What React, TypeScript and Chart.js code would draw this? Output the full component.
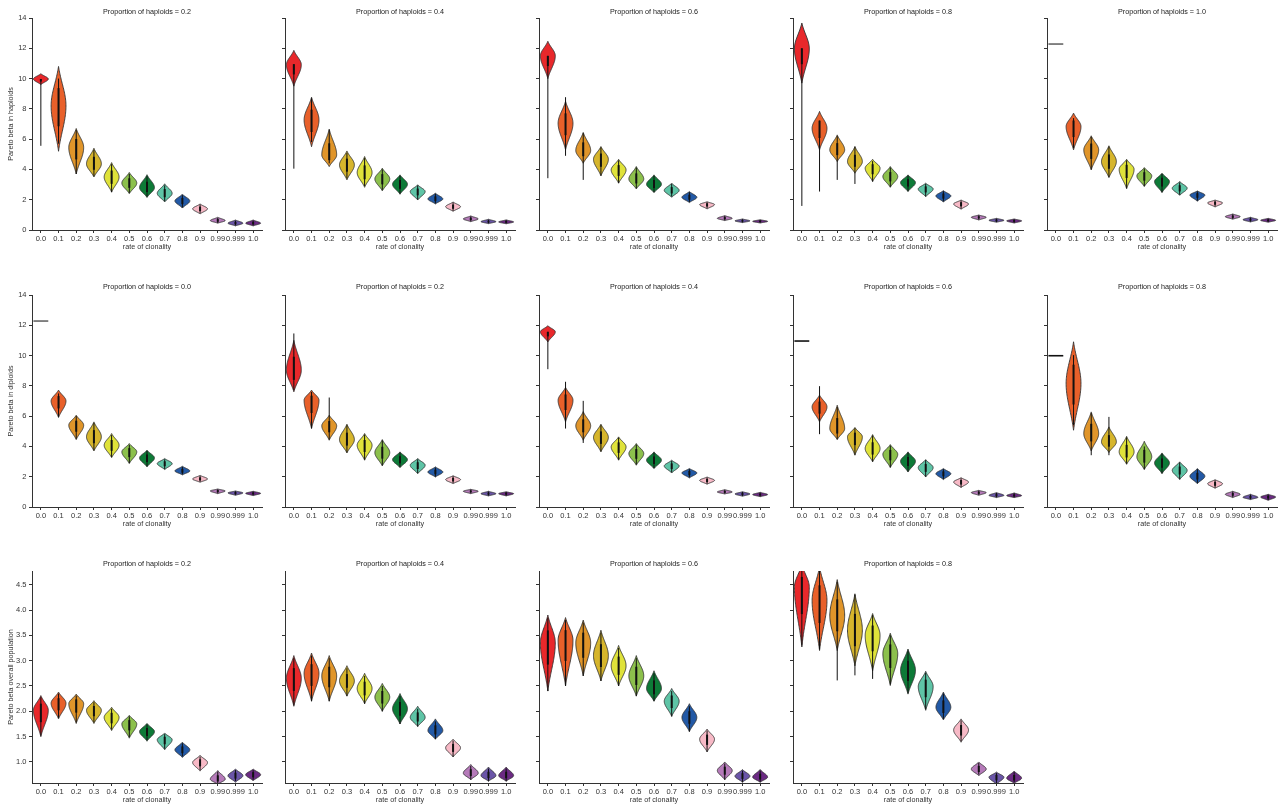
import React, { useEffect, useRef } from "react";
import { Chart, registerables } from "chart.js";
Chart.register(...registerables);

// [whisker low, body low, peak, body high, whisker high]
type Violin = [number, number, number, number, number];

const clonality = ["0.0", "0.1", "0.2", "0.3", "0.4", "0.5", "0.6", "0.7", "0.8", "0.9", "0.99", "0.999", "1.0"];
const violinColors = [
  "#e8282b", "#e8602a", "#e0952a", "#d6b52c", "#dfe23a", "#8cc04c", "#0d7a37",
  "#5ec4a6", "#2259a6", "#f7b9c6", "#b57ab9", "#6a55a8", "#6b2a83",
];
const betaTicks = [0, 2, 4, 6, 8, 10, 12, 14];
const overallTicks = [1.0, 1.5, 2.0, 2.5, 3.0, 3.5, 4.0, 4.5];
const betaRange = [0, 14];
const overallRange = [0.585, 4.77];

const haploid02: Violin[] = [
  [5.56, 9.6, 9.97, 10.32, 9.97], [5.7, 5.2, 8.2, 10.8, 10.0], [3.7, 3.7, 5.45, 6.7, 6.6],
  [3.55, 3.5, 4.37, 5.4, 5.3], [2.5, 2.5, 3.5, 4.45, 4.35], [2.45, 2.4, 3.1, 3.8, 3.7],
  [2.2, 2.15, 2.8, 3.65, 3.55], [1.9, 1.85, 2.42, 3.05, 2.95], [1.48, 1.45, 1.92, 2.36, 2.3],
  [1.1, 1.06, 1.4, 1.72, 1.68], [0.46, 0.45, 0.62, 0.84, 0.8], [0.3, 0.27, 0.45, 0.66, 0.62],
  [0.3, 0.27, 0.45, 0.66, 0.62],
];
const haploid04: Violin[] = [
  [4.05, 9.5, 10.91, 11.86, 10.95], [5.8, 5.5, 7.27, 8.77, 8.7], [4.4, 4.19, 4.96, 6.66, 6.62],
  [3.4, 3.31, 4.3, 5.22, 5.1], [2.9, 2.82, 3.79, 4.85, 4.75], [2.65, 2.58, 3.37, 4.08, 4.0],
  [2.4, 2.36, 3.02, 3.64, 3.58], [2.0, 1.98, 2.54, 2.98, 2.95], [1.75, 1.72, 2.05, 2.43, 2.4],
  [1.26, 1.23, 1.54, 1.85, 1.82], [0.57, 0.55, 0.73, 0.93, 0.9], [0.44, 0.42, 0.55, 0.71, 0.68],
  [0.43, 0.41, 0.53, 0.67, 0.65],
];
const haploid06: Violin[] = [
  [3.42, 10.0, 11.5, 12.46, 11.5], [4.9, 5.3, 7.05, 8.5, 8.77], [3.31, 4.41, 5.25, 6.44, 6.4],
  [3.6, 3.57, 4.67, 5.51, 5.45], [3.1, 3.09, 3.97, 4.67, 4.6], [2.75, 2.71, 3.37, 4.19, 4.12],
  [2.5, 2.47, 3.02, 3.64, 3.58], [2.2, 2.16, 2.62, 3.09, 3.04], [1.85, 1.81, 2.16, 2.54, 2.5],
  [1.42, 1.39, 1.68, 1.87, 1.84], [0.64, 0.62, 0.77, 0.95, 0.93], [0.5, 0.49, 0.6, 0.73, 0.71],
  [0.48, 0.46, 0.57, 0.68, 0.66],
];
const haploid08: Violin[] = [
  [1.59, 9.7, 11.97, 13.67, 12.0], [2.54, 5.29, 6.72, 7.83, 7.23], [3.31, 4.52, 5.29, 6.28, 6.2],
  [3.04, 3.75, 4.52, 5.51, 5.5], [3.2, 3.2, 4.08, 4.67, 4.55], [2.85, 2.82, 3.53, 4.19, 4.12],
  [2.56, 2.54, 3.13, 3.64, 3.6], [2.22, 2.2, 2.71, 3.09, 3.05], [1.88, 1.85, 2.25, 2.6, 2.56],
  [1.4, 1.37, 1.72, 1.98, 1.95], [0.68, 0.66, 0.84, 0.99, 0.97], [0.53, 0.51, 0.64, 0.77, 0.75],
  [0.48, 0.46, 0.6, 0.73, 0.71],
];
const haploid10: Violin[] = [
  [12.28, 12.28, 12.28, 12.28, 12.28], [5.4, 5.29, 6.83, 7.72, 7.39], [4.0, 3.97, 5.29, 6.22, 6.15],
  [3.5, 3.46, 4.52, 5.56, 5.5], [2.75, 2.73, 4.01, 4.67, 4.6], [2.9, 2.87, 3.57, 4.12, 4.05],
  [2.5, 2.47, 3.2, 3.75, 3.7], [2.32, 2.29, 2.76, 3.2, 3.15], [1.93, 1.9, 2.31, 2.58, 2.55],
  [1.55, 1.52, 1.79, 1.98, 1.95], [0.73, 0.71, 0.88, 1.06, 1.04], [0.55, 0.53, 0.68, 0.84, 0.82],
  [0.53, 0.51, 0.64, 0.77, 0.75],
];

const diploid00: Violin[] = [
  [12.28, 12.28, 12.28, 12.28, 12.28], [5.95, 5.91, 7.0, 7.72, 7.5], [4.5, 4.45, 5.4, 6.06, 6.0],
  [3.75, 3.7, 4.63, 5.62, 5.55], [3.3, 3.26, 4.08, 4.85, 4.75], [2.9, 2.87, 3.64, 4.19, 4.1],
  [2.68, 2.65, 3.24, 3.75, 3.7], [2.5, 2.47, 2.87, 3.2, 3.15], [2.15, 2.12, 2.38, 2.69, 2.65],
  [1.66, 1.63, 1.85, 2.09, 2.06], [0.9, 0.88, 1.06, 1.19, 1.17], [0.8, 0.77, 0.93, 1.06, 1.04],
  [0.78, 0.75, 0.9, 1.04, 1.02],
];
const diploid02: Violin[] = [
  [7.72, 7.61, 9.04, 11.0, 11.46], [5.2, 5.18, 7.05, 7.72, 7.6], [4.45, 4.41, 5.36, 6.06, 7.23],
  [3.6, 3.57, 4.45, 5.47, 5.4], [3.12, 3.09, 4.08, 4.85, 4.78], [2.75, 2.71, 3.59, 4.45, 4.4],
  [2.63, 2.6, 3.13, 3.64, 3.6], [2.23, 2.2, 2.76, 3.2, 3.15], [2.0, 1.98, 2.31, 2.65, 2.6],
  [1.57, 1.54, 1.81, 2.07, 2.04], [0.9, 0.88, 1.04, 1.17, 1.15], [0.75, 0.73, 0.88, 1.04, 1.02],
  [0.75, 0.73, 0.88, 1.01, 0.99],
];
const diploid04: Violin[] = [
  [9.1, 10.9, 11.57, 11.97, 11.57], [5.18, 5.62, 7.05, 7.9, 8.27], [4.23, 4.41, 5.36, 6.3, 7.01],
  [3.68, 3.64, 4.6, 5.47, 5.4], [3.12, 3.09, 3.97, 4.63, 4.58], [2.8, 2.76, 3.53, 4.19, 4.12],
  [2.57, 2.54, 3.09, 3.64, 3.6], [2.28, 2.25, 2.71, 3.09, 3.05], [1.95, 1.92, 2.25, 2.54, 2.5],
  [1.53, 1.5, 1.76, 1.98, 1.95], [0.88, 0.86, 0.99, 1.15, 1.13], [0.73, 0.71, 0.86, 1.01, 0.99],
  [0.7, 0.68, 0.82, 0.97, 0.95],
];
const diploid06: Violin[] = [
  [10.96, 10.96, 10.96, 10.96, 10.96], [4.81, 5.62, 6.61, 7.39, 7.98], [4.48, 4.45, 5.18, 6.72, 6.6],
  [3.45, 3.42, 4.63, 5.25, 5.2], [3.0, 2.98, 3.86, 4.78, 4.72], [2.63, 2.6, 3.48, 4.12, 4.05],
  [2.34, 2.31, 3.02, 3.64, 3.6], [2.0, 1.98, 2.6, 3.13, 3.1], [1.84, 1.81, 2.2, 2.54, 2.5],
  [1.3, 1.28, 1.65, 1.94, 1.9], [0.8, 0.77, 0.95, 1.1, 1.08], [0.64, 0.62, 0.77, 0.95, 0.93],
  [0.64, 0.62, 0.75, 0.93, 0.91],
];
const diploid08: Violin[] = [
  [9.99, 9.99, 9.99, 9.99, 9.99], [5.4, 5.07, 8.16, 10.91, 10.03], [3.42, 3.7, 4.85, 6.28, 6.2],
  [3.42, 3.6, 4.3, 5.29, 5.95], [2.85, 2.82, 3.64, 4.67, 4.6], [2.5, 2.47, 3.31, 4.34, 4.0],
  [2.23, 2.2, 2.91, 3.57, 3.52], [1.84, 1.81, 2.42, 2.98, 2.94], [1.57, 1.54, 2.03, 2.54, 2.5],
  [1.26, 1.23, 1.54, 1.81, 1.78], [0.64, 0.62, 0.84, 1.04, 1.02], [0.51, 0.49, 0.64, 0.84, 0.82],
  [0.46, 0.44, 0.66, 0.84, 0.82],
];

const overall02: Violin[] = [
  [1.52, 1.5, 2.02, 2.31, 2.28], [1.87, 1.85, 2.16, 2.38, 2.35], [1.78, 1.76, 2.15, 2.34, 2.31],
  [1.78, 1.76, 2.02, 2.21, 2.18], [1.64, 1.62, 1.88, 2.08, 2.05], [1.49, 1.47, 1.75, 1.92, 1.9],
  [1.43, 1.41, 1.6, 1.76, 1.74], [1.26, 1.24, 1.44, 1.57, 1.55], [1.11, 1.09, 1.24, 1.39, 1.37],
  [0.84, 0.82, 0.99, 1.13, 1.11], [0.58, 0.56, 0.66, 0.83, 0.81], [0.62, 0.6, 0.73, 0.86, 0.84],
  [0.65, 0.63, 0.75, 0.86, 0.84],
];
const overall04: Violin[] = [
  [2.12, 2.1, 2.65, 3.1, 3.05], [2.2, 2.2, 2.75, 3.15, 3.1], [2.2, 2.2, 2.7, 3.1, 3.05],
  [2.3, 2.3, 2.6, 2.9, 2.85], [2.15, 2.15, 2.45, 2.75, 2.7], [2.0, 2.0, 2.28, 2.55, 2.5],
  [1.75, 1.75, 2.05, 2.35, 2.3], [1.7, 1.7, 1.88, 2.1, 2.05], [1.45, 1.45, 1.62, 1.85, 1.8],
  [1.1, 1.1, 1.28, 1.45, 1.42], [0.65, 0.65, 0.78, 0.95, 0.92], [0.62, 0.62, 0.73, 0.9, 0.87],
  [0.62, 0.62, 0.73, 0.9, 0.87],
];
const overall06: Violin[] = [
  [2.4, 2.4, 3.35, 3.9, 3.85], [2.5, 2.5, 3.4, 3.85, 3.8], [2.7, 2.7, 3.35, 3.8, 3.75],
  [2.6, 2.6, 3.1, 3.6, 3.55], [2.5, 2.5, 2.9, 3.3, 3.25], [2.3, 2.3, 2.7, 3.1, 3.05],
  [2.2, 2.2, 2.45, 2.8, 2.75], [1.9, 1.9, 2.2, 2.45, 2.4], [1.6, 1.6, 1.88, 2.15, 2.1],
  [1.2, 1.2, 1.45, 1.65, 1.62], [0.65, 0.65, 0.83, 1.0, 0.97], [0.6, 0.6, 0.72, 0.85, 0.83],
  [0.6, 0.6, 0.7, 0.85, 0.83],
];
const overall08: Violin[] = [
  [3.3, 3.27, 4.45, 4.9, 4.77], [3.22, 3.2, 4.19, 4.85, 4.77], [2.61, 3.2, 3.89, 4.6, 4.55],
  [2.71, 2.9, 3.6, 4.32, 4.3], [2.64, 2.8, 3.5, 3.93, 3.9], [2.53, 2.51, 3.14, 3.54, 3.5],
  [2.36, 2.34, 2.81, 3.23, 3.2], [2.04, 2.02, 2.49, 2.79, 2.76], [1.85, 1.83, 2.08, 2.38, 2.35],
  [1.41, 1.39, 1.63, 1.85, 1.82], [0.75, 0.73, 0.86, 1.0, 0.98], [0.58, 0.56, 0.7, 0.8, 0.78],
  [0.6, 0.58, 0.68, 0.82, 0.8],
];

const rowAxes = [
  { label: "Pareto beta in haploids", ticks: betaTicks, range: betaRange, digits: 0 },
  { label: "Pareto beta in diploids", ticks: betaTicks, range: betaRange, digits: 0 },
  { label: "Pareto beta overall population", ticks: overallTicks, range: overallRange, digits: 1 },
];

const panels = [
  { row: 0, col: 0, title: "Proportion of haploids = 0.2", violins: haploid02, flat: "#666" },
  { row: 0, col: 1, title: "Proportion of haploids = 0.4", violins: haploid04, flat: "#666" },
  { row: 0, col: 2, title: "Proportion of haploids = 0.6", violins: haploid06, flat: "#666" },
  { row: 0, col: 3, title: "Proportion of haploids = 0.8", violins: haploid08, flat: "#666" },
  { row: 0, col: 4, title: "Proportion of haploids = 1.0", violins: haploid10, flat: "#666" },
  { row: 1, col: 0, title: "Proportion of haploids = 0.0", violins: diploid00, flat: "#666" },
  { row: 1, col: 1, title: "Proportion of haploids = 0.2", violins: diploid02, flat: "#666" },
  { row: 1, col: 2, title: "Proportion of haploids = 0.4", violins: diploid04, flat: "#666" },
  { row: 1, col: 3, title: "Proportion of haploids = 0.6", violins: diploid06, flat: "#111" },
  { row: 1, col: 4, title: "Proportion of haploids = 0.8", violins: diploid08, flat: "#111" },
  { row: 2, col: 0, title: "Proportion of haploids = 0.2", violins: overall02, flat: "#666" },
  { row: 2, col: 1, title: "Proportion of haploids = 0.4", violins: overall04, flat: "#666" },
  { row: 2, col: 2, title: "Proportion of haploids = 0.6", violins: overall06, flat: "#666" },
  { row: 2, col: 3, title: "Proportion of haploids = 0.8", violins: overall08, flat: "#666" },
];

const colLeft = [32, 285, 539, 793, 1047];
const rowTop = [18, 295, 571];
const rowTitleGap = [5.8, 7.6, 6.6];
const AREA_W = 230;
const AREA_H = 212;
const PAD_TOP = 18;
const Y_W = 32;
const X_H = 30;
const CANVAS_W = Y_W + AREA_W + 6;
const CANVAS_H = PAD_TOP + AREA_H + X_H;
const FONT = "'Liberation Sans', Arial, Helvetica, sans-serif";

function makeViolinPlugin(violins: Violin[], flatColor: string, title: string, titleGap: number) {
  return {
    id: "violins",
    beforeDatasetsDraw(chart: any) {
      const { ctx, chartArea: a } = chart;
      const xs = chart.scales.x;
      const ys = chart.scales.y;
      const half = (xs.getPixelForValue(1) - xs.getPixelForValue(0)) * 0.42;
      const K = 1.6;
      const e = Math.exp(-K);
      ctx.save();
      ctx.beginPath();
      ctx.rect(a.left, a.top, a.right - a.left, a.bottom - a.top);
      ctx.clip();
      violins.forEach((vl, i) => {
        const [lo, bLo, pk, bHi, hi] = vl;
        const cx = xs.getPixelForValue(i);
        if (bHi - bLo < 1e-6) {
          const y = ys.getPixelForValue(pk);
          ctx.strokeStyle = flatColor;
          ctx.lineWidth = 1.6;
          ctx.beginPath();
          ctx.moveTo(cx - half, y);
          ctx.lineTo(cx + half, y);
          ctx.stroke();
          return;
        }
        const prof: [number, number][] = [];
        const N = 60;
        for (let k = 0; k <= N; k++) {
          const v = bLo + ((bHi - bLo) * k) / N;
          const u = v < pk ? (pk - v) / (pk - bLo) : bHi > pk ? (v - pk) / (bHi - pk) : 0;
          const w = half * Math.max(0, (Math.exp(-K * u * u) - e) / (1 - e));
          prof.push([ys.getPixelForValue(v), w]);
        }
        ctx.beginPath();
        prof.forEach(([y, w], k) => (k === 0 ? ctx.moveTo(cx + w, y) : ctx.lineTo(cx + w, y)));
        for (let k = prof.length - 1; k >= 0; k--) ctx.lineTo(cx - prof[k][1], prof[k][0]);
        ctx.closePath();
        ctx.fillStyle = violinColors[i];
        ctx.fill();
        ctx.strokeStyle = "#333";
        ctx.lineWidth = 0.9;
        ctx.stroke();
        // whiskers
        ctx.strokeStyle = "#111";
        ctx.lineWidth = 1;
        ctx.beginPath();
        ctx.moveTo(cx, ys.getPixelForValue(lo));
        ctx.lineTo(cx, ys.getPixelForValue(hi));
        ctx.stroke();
        // inter-quartile box
        const q1 = Math.max(lo, pk - (pk - bLo) * 0.45);
        const q3 = Math.min(hi, pk + (bHi - pk) * 0.45);
        if (q3 > q1) {
          ctx.lineWidth = 2;
          ctx.beginPath();
          ctx.moveTo(cx, ys.getPixelForValue(q1));
          ctx.lineTo(cx, ys.getPixelForValue(q3));
          ctx.stroke();
        }
      });
      ctx.restore();
    },
    afterDraw(chart: any) {
      const { ctx, chartArea: a } = chart;
      ctx.save();
      ctx.font = `7.2px ${FONT}`;
      ctx.fillStyle = "#222";
      ctx.textAlign = "center";
      ctx.textBaseline = "middle";
      ctx.fillText(title, (a.left + a.right) / 2, a.top - titleGap);
      ctx.restore();
    },
  };
}

function Panel({ p }: { p: (typeof panels)[number] }) {
  const ref = useRef<HTMLCanvasElement>(null);
  useEffect(() => {
    const axis = rowAxes[p.row];
    const first = p.col === 0;
    const chart = new Chart(ref.current as HTMLCanvasElement, {
      type: "line",
      data: {
        labels: clonality,
        datasets: [
          {
            data: p.violins.map((v) => v[2]),
            pointRadius: 0,
            showLine: false,
            borderWidth: 0,
          },
        ],
      },
      options: {
        animation: false,
        responsive: false,
        devicePixelRatio: 1,
        layout: { padding: { left: 0, top: PAD_TOP, right: 6, bottom: 0 } },
        plugins: { legend: { display: false }, tooltip: { enabled: false }, title: { display: false } },
        scales: {
          x: {
            type: "category",
            offset: true,
            grid: {
              display: true,
              offset: false,
              drawOnChartArea: false,
              drawTicks: true,
              tickLength: 3,
              color: "#333",
              tickColor: "#333",
            },
            border: { display: true, color: "#333", width: 1 },
            ticks: {
              font: { family: FONT, size: 7.5 },
              color: "#333",
              padding: 1.5,
              maxRotation: 0,
              minRotation: 0,
              autoSkip: false,
            },
            title: {
              display: true,
              text: "rate of clonality",
              font: { family: FONT, size: 7.2 },
              color: "#333",
              padding: { top: 0, bottom: 8.2 },
            },
            afterFit: (s: any) => {
              s.height = X_H;
            },
          },
          y: {
            type: "linear",
            min: axis.range[0],
            max: axis.range[1],
            afterBuildTicks: (s: any) => {
              s.ticks = axis.ticks.map((v) => ({ value: v }));
            },
            grid: {
              display: true,
              drawOnChartArea: false,
              drawTicks: true,
              tickLength: 3,
              color: "#333",
              tickColor: "#333",
            },
            border: { display: true, color: "#333", width: 1 },
            ticks: {
              display: first,
              font: { family: FONT, size: 7.5 },
              color: "#333",
              padding: 2.5,
              callback: (v: any) => Number(v).toFixed(axis.digits),
            },
            title: {
              display: first,
              text: axis.label,
              font: { family: FONT, size: 7.2 },
              color: "#333",
              padding: { top: 7, bottom: 0 },
            },
            afterFit: (s: any) => {
              s.width = Y_W;
            },
          },
        },
      } as any,
      plugins: [makeViolinPlugin(p.violins, p.flat, p.title, rowTitleGap[p.row])],
    });
    return () => chart.destroy();
  }, []);
  return (
    <canvas
      ref={ref}
      width={CANVAS_W}
      height={CANVAS_H}
      style={{
        position: "absolute",
        left: colLeft[p.col] - Y_W,
        top: rowTop[p.row] - PAD_TOP,
        width: CANVAS_W,
        height: CANVAS_H,
      }}
    />
  );
}

export default function App() {
  return (
    <div
      style={{
        position: "fixed",
        left: 0,
        top: 0,
        width: 1282,
        height: 807,
        overflow: "hidden",
        background: "#fff",
      }}
    >
      {panels.map((p, i) => (
        <Panel key={i} p={p} />
      ))}
    </div>
  );
}
